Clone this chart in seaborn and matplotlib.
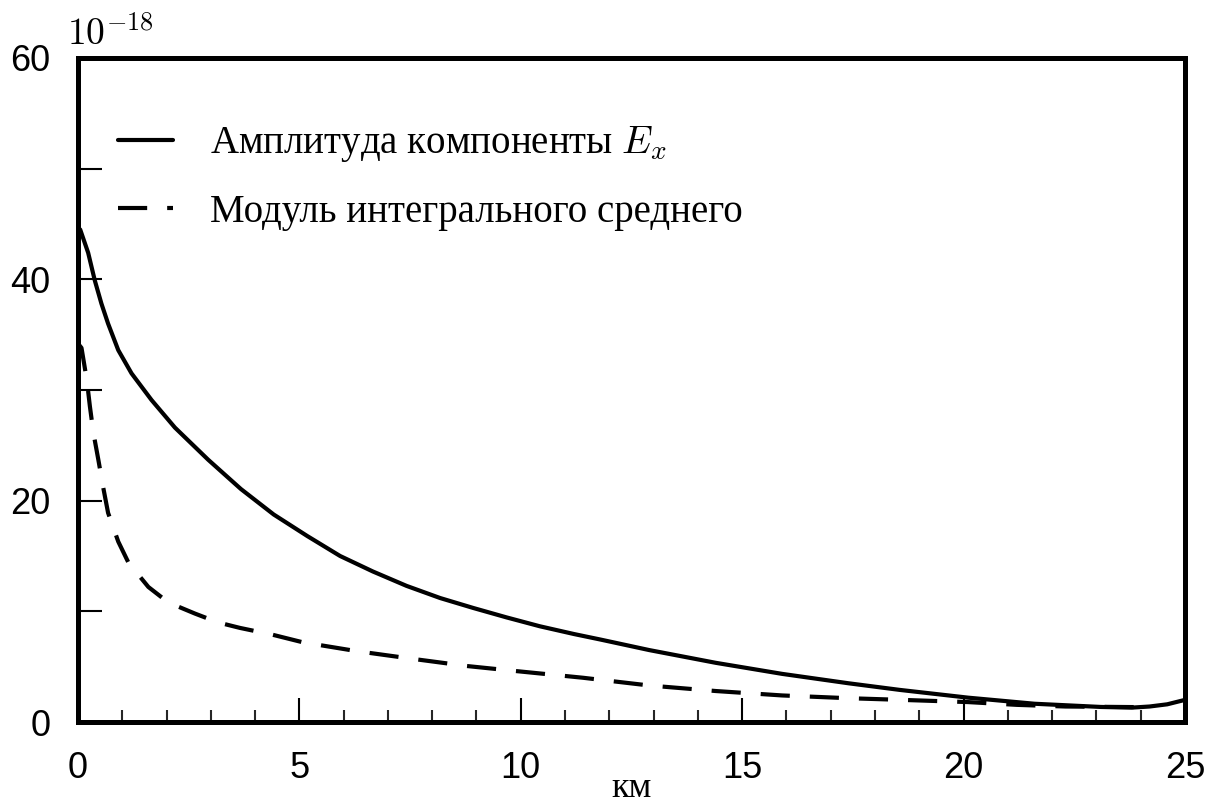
import matplotlib
matplotlib.use("Agg")
import matplotlib.pyplot as plt
import seaborn as sns
import pandas as pd
from matplotlib.ticker import MultipleLocator, FuncFormatter

# Амплитуда компоненты E_x (units of 1e-18)
amp_x = [0, 0.05, 0.23, 0.38, 0.53, 0.68, 0.91, 1.21, 1.66, 2.19, 2.94, 3.68, 4.42,
         5.18, 5.92, 6.66, 7.42, 8.18, 8.93, 9.68, 10.43, 11.2, 11.8, 12.9, 14.4,
         15.9, 17.4, 18.56, 20.1, 21.6, 23.1, 23.8, 24.2, 24.6, 25.0]
amp_y = [44.4, 44.5, 42.4, 39.9, 37.8, 36.0, 33.6, 31.5, 29.1, 26.6, 23.7, 21.05, 18.75,
         16.8, 15.0, 13.6, 12.3, 11.2, 10.3, 9.45, 8.65, 7.95, 7.45, 6.5, 5.35,
         4.35, 3.5, 2.9, 2.2, 1.65, 1.36, 1.3, 1.4, 1.6, 2.0]

# Модуль интегрального среднего
avg_x = [0, 0.08, 0.2, 0.27, 0.35, 0.46, 0.57, 0.68, 0.91, 1.14, 1.59, 2.04, 2.64,
         3.16, 3.66, 4.38, 5.08, 6.3, 7.57, 8.78, 9.9, 11.4, 12.9, 14.4, 15.9,
         17.4, 18.6, 20.1, 21.2, 22.3, 23.8, 24.2]
avg_y = [34.2, 33.8, 30.9, 28.5, 26.1, 23.7, 21.2, 18.9, 16.3, 14.4, 12.2, 10.8, 9.8,
         9.0, 8.5, 7.9, 7.2, 6.4, 5.7, 5.06, 4.6, 4.0, 3.3, 2.8, 2.4,
         2.15, 2.0, 1.8, 1.55, 1.4, 1.35, 1.35]

label_amp = "Амплитуда компоненты $E_x$"
label_avg = "Модуль интегрального среднего"

sns.set_theme(style="white")
plt.rcParams['font.family'] = ['Liberation Sans', 'DejaVu Sans']
plt.rcParams['mathtext.fontset'] = 'cm'
plt.rcParams['text.color'] = 'black'
plt.rcParams['axes.labelcolor'] = 'black'

fig = plt.figure(figsize=(12.05, 8.05), dpi=100)
ax = fig.add_axes([0.0647, 0.1031, 0.9187, 0.8249])

df_amp = pd.DataFrame({"x": amp_x, "y": amp_y})
df_avg = pd.DataFrame({"x": avg_x, "y": avg_y})
sns.lineplot(data=df_amp, x="x", y="y", ax=ax, color="black", lw=3.0,
             label=label_amp, sort=False)
sns.lineplot(data=df_avg, x="x", y="y", ax=ax, color="black", lw=3.0,
             linestyle=(0, (7, 4.8)), label=label_avg, sort=False)

ax.set_xlim(0, 25)
ax.set_ylim(0, 60)

for s in ax.spines.values():
    s.set_linewidth(3.6)
    s.set_color("black")

ax.xaxis.set_major_locator(MultipleLocator(5))
ax.xaxis.set_minor_locator(MultipleLocator(1))
ax.yaxis.set_major_locator(MultipleLocator(10))
ax.yaxis.set_major_formatter(FuncFormatter(lambda v, p: f"{v:.0f}" if int(round(v)) % 20 == 0 else ""))

ax.tick_params(axis="x", which="major", direction="in", length=17, width=1.5,
               pad=21, labelsize=26, colors="black", bottom=True, top=False)
ax.tick_params(axis="x", which="minor", direction="in", length=8.5, width=1.5,
               bottom=True, top=False)
ax.tick_params(axis="y", which="major", direction="in", length=17, width=1.5,
               pad=20, labelsize=26, colors="black", left=True, right=False)

ax.set_xlabel("км", family=["Liberation Serif"], fontsize=26, labelpad=-10, color="black")
ax.set_ylabel("")

ax.text(-0.01, 1.008, r"$10^{-18}$", transform=ax.transAxes, fontsize=27,
        ha="left", va="bottom", color="black")

leg = ax.legend(loc="upper left", bbox_to_anchor=(0.036, 0.90), frameon=False,
                borderpad=0, borderaxespad=0, handlelength=1.41, handletextpad=0.95,
                labelspacing=0.75, prop={"family": "Liberation Serif", "size": 28})
for t in leg.get_texts():
    t.set_color("black")

fig.savefig("out.png", dpi=100)
